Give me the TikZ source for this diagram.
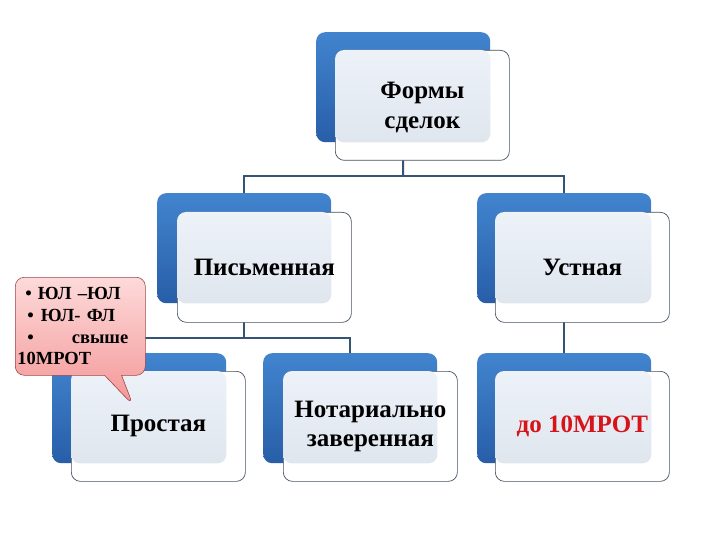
\documentclass[tikz,border=0pt]{standalone}
\usepackage{fontspec}
\setmainfont{Liberation Serif}
\newfontfamily\serifx{Liberation Serif}
\usetikzlibrary{shapes.callouts,backgrounds}
\definecolor{bluetop}{RGB}{66,132,206}
\definecolor{bluebot}{RGB}{40,94,168}
\definecolor{lighttop}{RGB}{237,242,249}
\definecolor{lightbot}{RGB}{224,230,238}
\definecolor{boxline}{RGB}{70,82,98}
\definecolor{connc}{RGB}{52,84,116}
\definecolor{pinktop}{RGB}{253,218,218}
\definecolor{pinkbot}{RGB}{244,150,150}
\definecolor{pinkline}{RGB}{160,70,70}
\definecolor{redtext}{RGB}{215,20,25}
\begin{document}
\begin{tikzpicture}[x=1pt,y=-1pt,
 bluebox/.style={rectangle,rounded corners=9pt,minimum width=174pt,minimum height=110pt,inner sep=0pt,anchor=north west,top color=bluetop,bottom color=bluebot,draw=none},
 whitebox/.style={rectangle,rounded corners=9pt,minimum width=174pt,minimum height=110pt,inner sep=0pt,anchor=north west,fill=white,draw=boxline,line width=0.7pt},
 tint/.style={rounded corners=9pt,top color=lighttop,bottom color=lightbot},
 conn/.style={draw=connc,line width=2pt},
 lbl/.style={font=\serifx\bfseries\fontsize{25}{29.5}\selectfont,align=center,inner sep=0pt},
 note/.style={rectangle callout,anchor=north west,rounded corners=9pt,minimum width=130pt,minimum height=98pt,text width=126pt,align=left,inner sep=0pt,top color=pinktop,bottom color=pinkbot,draw=pinkline,line width=0.6pt,callout pointer width=17pt,font=\serifx\bfseries\fontsize{18.5}{21.7}\selectfont},
 ]
\useasboundingbox (0,0) rectangle (720,540);
% boxes
\node[bluebox] (tb) at (316,32) {};
\node[whitebox] (tw) at (335,50) {};
\path[tint] (tw.north west) rectangle (tb.south east);
\node[lbl] (tt) at ([yshift=-2pt]tw.center) {Формы\\сделок};

\node[bluebox] (lb) at (157,193) {};
\node[whitebox] (lw) at (177,212) {};
\path[tint] (lw.north west) rectangle (lb.south east);
\node[lbl] (lt) at (lw.center) {Письменная};

\node[bluebox] (rb) at (477,193) {};
\node[whitebox] (rw) at (495,212) {};
\path[tint] (rw.north west) rectangle (rb.south east);
\node[lbl] (rt) at (rw.center) {Устная};

\node[bluebox] (ab) at (52,353) {};
\node[whitebox] (aw) at (71,371) {};
\path[tint] (aw.north west) rectangle (ab.south east);
\node[lbl] (at) at (aw.center) {Простая};

\node[bluebox] (bb) at (263,353) {};
\node[whitebox] (bw) at (283,371) {};
\path[tint] (bw.north west) rectangle (bb.south east);
\node[lbl] (bt) at (bw.center) {Нотариально\\заверенная};

\node[bluebox] (cb) at (477,353) {};
\node[whitebox] (cw) at (495,371) {};
\path[tint] (cw.north west) rectangle (cb.south east);
\node[lbl,text=redtext] (ct) at (cw.center) {до 10МРОТ};

% callout
\node[note,callout absolute pointer={(133,405)}] (cl) at (15,277)
 {\hspace*{8pt}• ЮЛ –ЮЛ\\
  \hspace*{10pt}•\hspace{7pt}ЮЛ- ФЛ\\
  \hspace*{10pt}•\hfill свыше\kern15pt\mbox{}\\
  10МРОТ};

% connectors
\begin{pgfonlayer}{background}
\fill[white] (0,0) rectangle (720,540);
\coordinate (bus1) at (403,176);
\coordinate (bus2) at (0,338);
\draw[conn] (tb.center) -- (bus1);
\draw[conn] (lb.center) |- (bus1) -| (rb.center);
\draw[conn] (lb.center) -- (lb.center |- bus2);
\draw[conn] (ab.center) |- (bus2 -| bb.center) -- (bb.center);
\draw[conn] (rb.center) -- (cb.center);
\end{pgfonlayer}
\end{tikzpicture}
\end{document}
